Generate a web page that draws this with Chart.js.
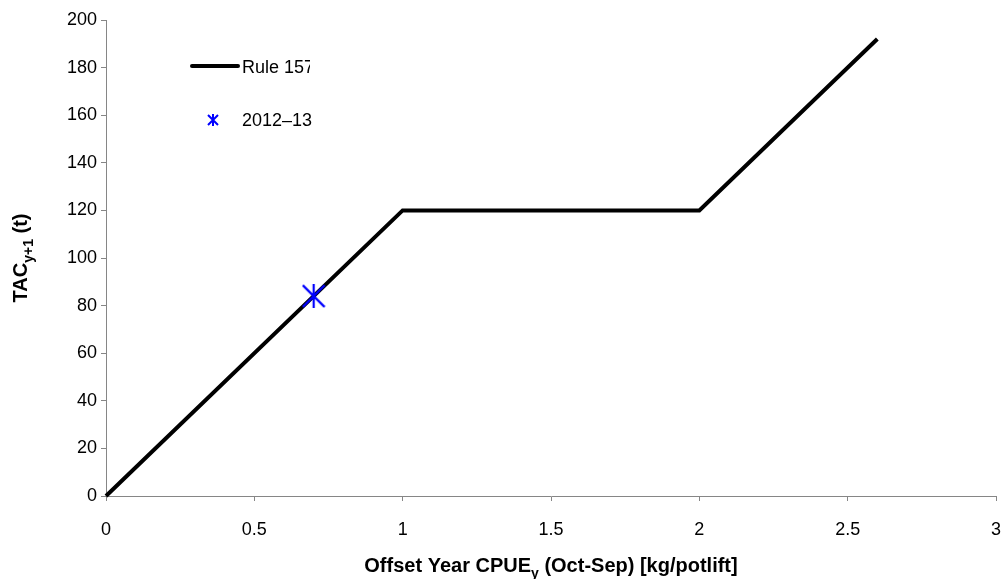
<!DOCTYPE html>
<html>
<head>
<meta charset="utf-8">
<title>TAC harvest control rule</title>
<script src="https://cdn.jsdelivr.net/npm/chart.js@4.4.1/dist/chart.umd.min.js"></script>
<style>
  html, body { margin: 0; padding: 0; background: #ffffff; }
  #wrap { width: 1002px; height: 579px; }
</style>
</head>
<body>
<div id="wrap"><canvas id="chart" width="1002" height="579"></canvas></div>
<script>
// Harvest control rule: next-year TAC as a function of offset-year CPUE
const ruleCpue = [0, 1, 2, 2.6];
const ruleTac = [0, 120, 120, 192];
// Observed season
const obsCpue = [0.7];
const obsTac = [84];

const ruleName = 'Rule 157';
const obsName = '2012\u201313';

const xTickValues = [0, 0.5, 1, 1.5, 2, 2.5, 3];
const xTickLabels = ['0', '0.5', '1', '1.5', '2', '2.5', '3'];
const yTickValues = [0, 20, 40, 60, 80, 100, 120, 140, 160, 180, 200];
const yTickLabels = ['0', '20', '40', '60', '80', '100', '120', '140', '160', '180', '200'];

const FONT = '"Liberation Sans", Arial, sans-serif';
const AXIS_GREY = '#868686';
const OBS_BLUE = '#0000ff';

// Asterisk marker: vertical bar plus an X
function makeAsterisk(w, h, lw) {
  const c = document.createElement('canvas');
  c.width = w; c.height = h;
  const g = c.getContext('2d');
  g.strokeStyle = OBS_BLUE;
  g.lineWidth = lw;
  g.lineCap = 'butt';
  const p = lw / 2;
  g.beginPath();
  g.moveTo(w / 2, 0); g.lineTo(w / 2, h);
  g.moveTo(p, p); g.lineTo(w - p, h - p);
  g.moveTo(w - p, p); g.lineTo(p, h - p);
  g.stroke();
  return c;
}
const bigStar = makeAsterisk(24, 24, 2.2);
const smallStar = makeAsterisk(12, 12, 2);

// Draws text made of normal and subscript runs
function richWidth(ctx, parts, size) {
  let w = 0;
  for (const p of parts) {
    ctx.font = 'bold ' + (p.sub ? Math.round(size * 0.68) : size) + 'px ' + FONT;
    w += ctx.measureText(p.text).width;
  }
  return w;
}
function drawRich(ctx, parts, x, y, size) {
  let cx = x;
  for (const p of parts) {
    const s = p.sub ? Math.round(size * 0.68) : size;
    ctx.font = 'bold ' + s + 'px ' + FONT;
    ctx.fillText(p.text, cx, p.sub ? y + size * 0.28 : y);
    cx += ctx.measureText(p.text).width;
  }
}

const xTitle = [
  { text: 'Offset Year CPUE' }, { text: 'y', sub: true },
  { text: ' (Oct-Sep) [kg/potlift]' }
];
const yTitle = [
  { text: 'TAC' }, { text: 'y+1', sub: true }, { text: ' (t)' }
];

const decorations = {
  id: 'decorations',
  afterDraw(chart) {
    const ctx = chart.ctx;
    const area = chart.chartArea;
    ctx.save();
    ctx.fillStyle = '#000';
    ctx.textBaseline = 'alphabetic';
    ctx.textAlign = 'left';

    // x-axis title
    const ts = 20;
    const xw = richWidth(ctx, xTitle, ts);
    drawRich(ctx, xTitle, (area.left + area.right) / 2 - xw / 2, 572, ts);

    // y-axis title, rotated
    const yw = richWidth(ctx, yTitle, ts);
    ctx.save();
    ctx.translate(27, (area.top + area.bottom) / 2);
    ctx.rotate(-Math.PI / 2);
    drawRich(ctx, yTitle, -yw / 2, 0, ts);
    ctx.restore();

    // legend
    const ruleSet = chart.data.datasets[1];
    ctx.strokeStyle = ruleSet.borderColor;
    ctx.lineWidth = ruleSet.borderWidth;
    ctx.lineCap = 'round';
    ctx.beginPath();
    ctx.moveTo(192, 66);
    ctx.lineTo(238, 66);
    ctx.stroke();
    ctx.font = '18px ' + FONT;
    ctx.textBaseline = 'middle';
    // the first entry's label runs past the legend box and is cut off
    ctx.save();
    ctx.beginPath();
    ctx.rect(240, 50, 70, 36);
    ctx.clip();
    ctx.fillText(ruleName, 242, 68);
    ctx.restore();
    ctx.drawImage(smallStar, 213 - 6, 120 - 6);
    ctx.fillText(obsName, 242, 121);

    ctx.restore();
  }
};

const axisCommon = {
  grid: {
    display: true,
    drawOnChartArea: false,
    drawTicks: true,
    tickLength: 5,
    color: AXIS_GREY,
    lineWidth: 1
  },
  border: { display: true, color: AXIS_GREY, width: 1 },
  title: { display: false }
};

new Chart(document.getElementById('chart'), {
  type: 'scatter',
  data: {
    datasets: [
      {
        label: obsName,
        data: obsCpue.map((x, i) => ({ x: x, y: obsTac[i] })),
        pointStyle: bigStar,
        pointRadius: 12,
        showLine: false,
        order: 0
      },
      {
        label: ruleName,
        data: ruleCpue.map((x, i) => ({ x: x, y: ruleTac[i] })),
        showLine: true,
        borderColor: '#000000',
        borderWidth: 4,
        borderJoinStyle: 'miter',
        tension: 0,
        pointRadius: 0,
        pointHoverRadius: 0,
        clip: false,
        order: 1
      }
    ]
  },
  options: {
    responsive: false,
    animation: false,
    events: [],
    layout: {
      autoPadding: false,
      padding: { top: 20, right: 6, left: 0, bottom: 0 }
    },
    plugins: {
      legend: { display: false },
      tooltip: { enabled: false }
    },
    scales: {
      x: Object.assign({}, axisCommon, {
        type: 'linear',
        min: 0,
        max: 3,
        afterBuildTicks(scale) { scale.ticks = xTickValues.map(v => ({ value: v })); },
        afterFit(scale) {
          scale.height = 83;
          scale.paddingLeft = 0;
          scale.paddingRight = 0;
        },
        ticks: {
          color: '#000',
          font: { family: FONT, size: 18 },
          padding: 18,
          maxRotation: 0,
          callback: (v) => xTickLabels[xTickValues.indexOf(v)]
        }
      }),
      y: Object.assign({}, axisCommon, {
        type: 'linear',
        min: 0,
        max: 200,
        afterBuildTicks(scale) { scale.ticks = yTickValues.map(v => ({ value: v })); },
        afterFit(scale) {
          scale.width = 106;
          scale.paddingTop = 0;
          scale.paddingBottom = 0;
        },
        ticks: {
          color: '#000',
          font: { family: FONT, size: 18 },
          padding: 4,
          callback: (v) => yTickLabels[yTickValues.indexOf(v)]
        }
      })
    }
  },
  plugins: [decorations]
});
</script>
</body>
</html>
